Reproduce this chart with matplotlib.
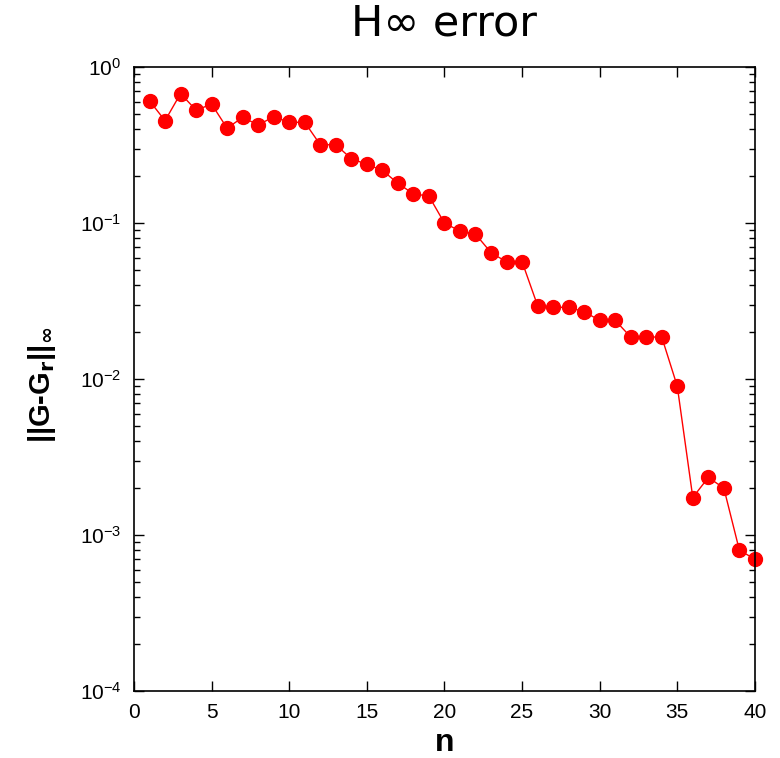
import numpy as np
import matplotlib
matplotlib.use("Agg")
import matplotlib.pyplot as plt
from matplotlib.ticker import LogLocator, NullFormatter, MultipleLocator

# data
n = list(range(1, 41))
err = [0.608, 0.454, 0.677, 0.530, 0.579, 0.406, 0.477, 0.426, 0.481, 0.443,
       0.443, 0.318, 0.318, 0.259, 0.238, 0.218, 0.180, 0.154, 0.149, 0.100,
       0.089, 0.085, 0.0647, 0.0564, 0.0566, 0.0296, 0.0288, 0.0289, 0.0270, 0.0238,
       0.0238, 0.0186, 0.0186, 0.0186, 0.0090, 0.00174, 0.00234, 0.0020, 0.00080, 0.00070]

plt.rcParams['font.family'] = ['Liberation Sans Narrow', 'Liberation Sans', 'DejaVu Sans']
plt.rcParams['mathtext.fontset'] = 'custom'
plt.rcParams['mathtext.rm'] = 'Liberation Sans Narrow'
plt.rcParams['mathtext.bf'] = 'Liberation Sans Narrow:bold'

fig = plt.figure(figsize=(7.8, 7.58), dpi=100)
ax = fig.add_axes([0.1718, 0.0884, 0.796, 0.823])

ax.semilogy(n, err, '-', color='red', lw=1.0, marker='o', markersize=10,
            markerfacecolor='red', markeredgecolor='red', clip_on=False)

ax.set_xlim(0, 40)
ax.set_ylim(1e-4, 1)
ax.xaxis.set_major_locator(MultipleLocator(5))
ax.yaxis.set_major_locator(LogLocator(base=10, numticks=10))
ax.yaxis.set_minor_locator(LogLocator(base=10, subs=np.arange(2, 10), numticks=10))
ax.yaxis.set_minor_formatter(NullFormatter())
ax.tick_params(which='both', direction='in', top=True, right=True, labelsize=15, pad=9)
ax.tick_params(which='major', length=7, width=1.0)
ax.tick_params(which='minor', length=4, width=1.0)
for s in ax.spines.values():
    s.set_linewidth(1.2)

ax.set_title('H\u221e error', fontsize=31, family='DejaVu Sans', pad=23)
ax.set_xlabel('n', fontsize=23, fontweight='bold', va='center')
ax.xaxis.set_label_coords(0.5, -0.084)
ax.set_ylabel(r'||G-G$_\mathbf{r}$||$_\mathbf{\infty}$', fontsize=21, fontweight='bold', va='center')
ax.yaxis.set_label_coords(-0.148, 0.49)

fig.savefig('out.png', dpi=100)
